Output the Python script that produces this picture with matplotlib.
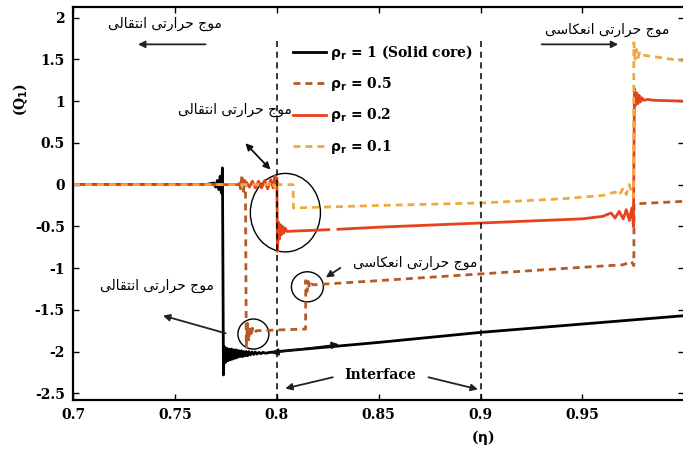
import numpy as np
import matplotlib
matplotlib.use("Agg")
import matplotlib.pyplot as plt
from matplotlib.patches import Ellipse

# eta and Q values for each core density ratio, ringing included
eta_solid = [0.700, 0.765, 0.7690, 0.7700, 0.7708, 0.7716, 0.7722, 0.7728, 0.7733, 0.7738,
             0.7742, 0.7748, 0.7754, 0.7760, 0.7766, 0.7772, 0.7778, 0.7784, 0.7790, 0.7796,
             0.7802, 0.7808, 0.7814, 0.7820, 0.7826, 0.7832, 0.7838, 0.7844, 0.7850, 0.7856,
             0.7862, 0.7870, 0.7878, 0.7886, 0.7894, 0.7902, 0.7912, 0.7922, 0.7932, 0.7945,
             0.7960, 0.800, 0.850, 0.900, 0.950, 1.000]
q_solid = [0.0, 0.0, 0.02, -0.03, 0.05, -0.06, 0.10, -0.10, 0.20, -2.28,
           -1.94, -2.13, -1.96, -2.11, -1.97, -2.10, -1.97, -2.09, -1.98, -2.08,
           -1.98, -2.07, -1.99, -2.06, -1.99, -2.06, -2.00, -2.05, -2.00, -2.05,
           -2.00, -2.04, -2.005, -2.035, -2.005, -2.03, -2.01, -2.025, -2.01, -2.02,
           -2.012, -2.00, -1.89, -1.77, -1.67, -1.57]

eta_05 = [0.700, 0.780, 0.7815, 0.7822, 0.7829, 0.7836, 0.7842, 0.7846, 0.7850, 0.7856,
          0.7862, 0.7868, 0.7874, 0.7880, 0.7888, 0.7900, 0.8141, 0.8142, 0.8148, 0.8154,
          0.8160, 0.8168, 0.8180, 0.850, 0.900, 0.950, 0.9700, 0.9740, 0.9752, 0.9753,
          0.9760, 1.000]
q_05 = [0.0, 0.0, 0.03, -0.05, 0.12, -0.08, 0.05, 0.0, -1.95, -1.66,
        -1.88, -1.70, -1.82, -1.72, -1.78, -1.75, -1.73, -1.15, -1.28, -1.16,
        -1.24, -1.19, -1.20, -1.15, -1.07, -0.99, -0.96, -0.92, -0.97, -0.23,
        -0.23, -0.20]

eta_02 = [0.700, 0.782, 0.7850, 0.7865, 0.7880, 0.7895, 0.7910, 0.7925, 0.7940, 0.7955,
          0.7970, 0.7982, 0.7990, 0.7996, 0.8000, 0.8003, 0.8008, 0.8013, 0.8018, 0.8023,
          0.8028, 0.8034, 0.8040, 0.8050, 0.8255, np.nan, 0.8300, 0.850, 0.900, 0.950,
          0.9600, 0.9640, 0.9660, 0.9680, 0.9700, 0.9715, 0.9730, 0.9742, 0.9750, 0.9755,
          0.9760, 0.9766, 0.9772, 0.9778, 0.9784, 0.9792, 0.9800, 0.9820, 0.9850, 1.000]
q_02 = [0.0, 0.0, 0.03, -0.03, 0.04, -0.04, 0.04, -0.04, 0.05, -0.05,
        0.06, -0.04, 0.10, 0.03, 0.08, -0.80, -0.45, -0.65, -0.48, -0.60,
        -0.50, -0.58, -0.52, -0.56, -0.54, np.nan, -0.535, -0.51, -0.46, -0.41,
        -0.38, -0.34, -0.40, -0.32, -0.41, -0.30, -0.43, -0.28, -0.50, 1.15,
        0.95, 1.10, 0.97, 1.07, 0.99, 1.04, 1.01, 1.02, 1.01, 1.00]

eta_01 = [0.700, 0.7960, 0.7975, 0.7990, 0.8000, 0.8010, 0.8040, 0.8080, 0.8081, 0.850,
          0.900, 0.940, 0.960, 0.9660, 0.9680, 0.9700, 0.9715, 0.9730, 0.9745, 0.9751,
          0.9752, 0.9758, 0.9765, 0.9772, 0.9780, 0.9790, 0.9800, 1.000]
q_01 = [0.0, 0.0, 0.04, -0.03, 0.05, 0.0, 0.0, 0.0, -0.28, -0.25,
        -0.22, -0.17, -0.13, -0.09, -0.13, -0.04, -0.12, 0.0, -0.12, -0.15,
        1.70, 1.50, 1.62, 1.52, 1.58, 1.54, 1.55, 1.48]

labels = [r'$\mathbf{\rho_r}$ = 1 (Solid core)', r'$\mathbf{\rho_r}$ = 0.5',
          r'$\mathbf{\rho_r}$ = 0.2', r'$\mathbf{\rho_r}$ = 0.1']
interfaces = [0.8, 0.9]
xticks = [0.7, 0.75, 0.8, 0.85, 0.9, 0.95, 1.0]
xticklabels = ['0.7', '0.75', '0.8', '0.85', '0.9', '0.95', '']
yticks = [-2.5, -2, -1.5, -1, -0.5, 0, 0.5, 1, 1.5, 2]
yticklabels = ['-2.5', '-2', '-1.5', '-1', '-0.5', '0', '0.5', '1', '1.5', '2']

txt_transmit = 'موج حرارتی انتقالی'
txt_reflect = 'موج حرارتی انعکاسی'

# contextual forms (isolated, final, initial, medial); None = no forward join
FORMS = {
    'ا': ('\uFE8D', '\uFE8E', None, None),
    'ت': ('\uFE95', '\uFE96', '\uFE97', '\uFE98'),
    'ج': ('\uFE9D', '\uFE9E', '\uFE9F', '\uFEA0'),
    'ح': ('\uFEA1', '\uFEA2', '\uFEA3', '\uFEA4'),
    'ر': ('\uFEAD', '\uFEAE', None, None),
    'س': ('\uFEB1', '\uFEB2', '\uFEB3', '\uFEB4'),
    'ع': ('\uFEC9', '\uFECA', '\uFECB', '\uFECC'),
    'ق': ('\uFED5', '\uFED6', '\uFED7', '\uFED8'),
    'ل': ('\uFEDD', '\uFEDE', '\uFEDF', '\uFEE0'),
    'م': ('\uFEE1', '\uFEE2', '\uFEE3', '\uFEE4'),
    'ن': ('\uFEE5', '\uFEE6', '\uFEE7', '\uFEE8'),
    'و': ('\uFEED', '\uFEEE', None, None),
    'ک': ('\uFB8E', '\uFB8F', '\uFB90', '\uFB91'),
    'ی': ('\uFBFC', '\uFBFD', '\uFBFE', '\uFBFF'),
}


def shape(text):
    # matplotlib has no shaping, so join letters by hand and lay them out right-to-left
    out = []
    for i, ch in enumerate(text):
        if ch not in FORMS:
            out.append(ch)
            continue
        prev = text[i - 1] if i > 0 else ''
        nxt = text[i + 1] if i + 1 < len(text) else ''
        iso, fin, ini, med = FORMS[ch]
        join_prev = prev in FORMS and FORMS[prev][2] is not None
        join_next = ini is not None and nxt in FORMS
        if join_prev and join_next:
            out.append(med)
        elif join_prev:
            out.append(fin)
        elif join_next:
            out.append(ini)
        else:
            out.append(iso)
    return ''.join(reversed(out))


plt.rcParams['font.family'] = 'DejaVu Serif'
plt.rcParams['font.weight'] = 'bold'
plt.rcParams['mathtext.fontset'] = 'dejavusans'

fig = plt.figure(figsize=(6.83, 4.53), dpi=100)
ax = fig.add_axes([0.107, 0.117, 0.895, 0.868])

ax.plot(eta_solid, q_solid, color='black', lw=2.0, label=labels[0])
ax.plot(eta_05, q_05, color='#b65a26', lw=2.0, ls=(0, (2.5, 1.8)), label=labels[1])
ax.plot(eta_02, q_02, color='#e6421c', lw=2.0, label=labels[2])
ax.plot(eta_01, q_01, color='#efaa3e', lw=2.0, ls=(0, (2.5, 1.8)), label=labels[3])

for xi in interfaces:
    ax.plot([xi, xi], [-2.58, 1.72], color='black', lw=1.1, ls=(0, (4, 3)))

ax.set_xlim(0.7, 1.0)
ax.set_ylim(-2.58, 2.13)
ax.set_xticks(xticks)
ax.set_xticklabels(xticklabels)
ax.set_yticks(yticks)
ax.set_yticklabels(yticklabels)
ax.tick_params(direction='in', length=4, width=1, top=True, right=True,
               labelsize=10, pad=6)
for sp in ax.spines.values():
    sp.set_linewidth(1.6)

ax.set_xlabel(r'($\mathbf{\eta}$)', fontsize=10, fontweight='bold')
ax.xaxis.set_label_coords(0.67, -0.072)
ax.set_ylabel(r'(Q$_\mathbf{1}$)', fontsize=10, fontweight='bold')
ax.yaxis.set_label_coords(-0.07, 0.765)

ax.legend(loc='upper left', bbox_to_anchor=(0.35, 0.922), frameon=False,
          handlelength=2.4, handletextpad=0.3, labelspacing=0.95,
          borderaxespad=0, prop={'size': 10, 'weight': 'bold'})

arab = dict(family='DejaVu Sans', fontsize=10, weight='normal', ha='center', va='center')
arrow = dict(arrowstyle='-|>', color='#222222', lw=1.3, mutation_scale=10)
arrow2 = dict(arrowstyle='<|-|>', color='#111111', lw=1.3, mutation_scale=10)

# top-left: transmitted wave direction
ax.text(0.7452, 1.93, shape(txt_transmit), **arab)
ax.annotate('', xy=(0.7305, 1.68), xytext=(0.7664, 1.68), arrowprops=arrow)

# top-right: reflected wave direction
ax.text(0.962, 1.85, shape(txt_reflect), **arab)
ax.annotate('', xy=(0.9689, 1.68), xytext=(0.9286, 1.68), arrowprops=arrow)

# transmitted wave at the first interface
ax.text(0.7796, 0.90, shape(txt_transmit), **arab)
ax.annotate('', xy=(0.7978, 0.156), xytext=(0.7836, 0.52), arrowprops=arrow2)
ax.add_patch(Ellipse((0.8042, -0.336), 0.0344, 0.94, fill=False, ec='black', lw=1.0))

# reflected wave in the rho_r = 0.5 curve
ax.text(0.8681, -0.94, shape(txt_reflect), **arab)
ax.annotate('', xy=(0.8229, -1.13), xytext=(0.8323, -0.98), arrowprops=arrow)
ax.add_patch(Ellipse((0.8150, -1.224), 0.0157, 0.36, fill=False, ec='black', lw=1.0))

# transmitted wave in the solid core curve
ax.text(0.7413, -1.21, shape(txt_transmit), **arab)
ax.annotate('', xy=(0.7428, -1.56), xytext=(0.7762, -1.79), arrowprops=arrow)
ax.add_patch(Ellipse((0.7885, -1.79), 0.0152, 0.36, fill=False, ec='black', lw=1.0))
ax.annotate('', xy=(0.8318, -1.91), xytext=(0.7959, -2.02), arrowprops=arrow2)

# interface markers
ax.text(0.8509, -2.28, 'Interface', fontsize=10, ha='center', va='center')
ax.annotate('', xy=(0.8028, -2.45), xytext=(0.8288, -2.30), arrowprops=arrow)
ax.annotate('', xy=(0.9, -2.46), xytext=(0.8731, -2.30), arrowprops=arrow)

fig.savefig('out.png', dpi=100, facecolor='white')
